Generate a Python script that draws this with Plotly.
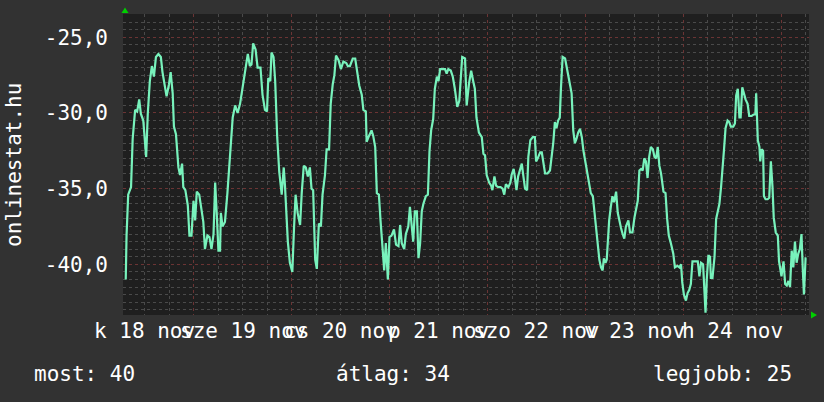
import plotly.graph_objects as go

# hours since 2014-11-18 00:00
hours = [
    7.4, 7.6, 8.0, 8.7, 9.1, 9.7, 10.2, 10.7, 11.1, 11.7, 12.4, 12.8, 13.3, 13.8, 14.3, 14.8,
    15.4, 16.0, 16.4, 16.9, 17.4, 18.0, 18.4, 18.9, 19.2, 19.7, 20.3, 20.7, 21.2, 21.5, 22.0,
    22.6, 23.0, 23.5, 24.0, 24.4, 24.8, 25.4, 26.0, 26.4, 26.8, 27.4, 27.9, 28.4, 28.9, 29.3,
    29.7, 30.1, 30.5, 30.7, 31.1, 31.7, 32.3, 32.8, 33.2, 33.6, 34.2,
    34.8, 35.4, 35.8, 36.4, 36.9, 37.3, 37.8, 38.2, 38.6, 39.2, 39.7, 40.4, 40.9, 41.5, 42.0,
    42.3, 42.8, 43.1, 43.6, 44.0, 44.5, 45.0, 45.6, 46.1, 46.4, 46.7, 47.1, 47.6, 48.2, 48.6,
    49.0, 49.5, 50.1, 50.5, 51.0, 51.5, 52.0, 52.5, 52.9, 53.3, 53.8, 54.2, 54.7, 55.2, 55.6,
    56.2, 56.6, 57.2, 57.6, 58.1, 58.5, 58.9, 59.5, 60.1, 60.7, 61.4, 61.8, 62.3,
    63.0, 63.6, 64.1, 64.6, 65.2, 65.6, 66.2, 66.4, 67.0, 67.6, 68.0, 68.5, 68.9, 69.4, 69.8,
    70.3, 70.7, 71.1, 71.6, 72.0, 72.5, 73.1, 73.6, 74.2, 74.6, 75.0, 75.6, 76.0, 76.6, 77.0,
    77.4, 77.8, 78.2, 78.7, 79.1, 79.5, 79.9, 80.3, 80.9, 81.4, 81.8, 82.2, 82.7, 83.1, 83.6,
    84.0, 84.4, 85.0, 85.6, 86.0, 86.4, 87.0, 87.5, 88.0, 88.6, 89.1, 89.5, 89.8, 90.5,
    90.9, 91.5, 92.0, 92.5, 92.9, 93.3, 93.9, 94.6, 95.0, 95.4, 95.8, 96.4, 96.9, 97.2, 97.7,
    98.1, 98.6, 99.2, 99.7, 100.1, 100.5, 101.1, 101.6, 101.9, 102.4, 102.7, 103.1, 103.5,
    104.0, 104.4, 104.8, 105.2, 105.7, 106.0, 106.5, 107.1, 107.6, 107.9, 108.3, 108.9, 109.3,
    109.7, 110.1, 110.7, 111.3, 111.7, 112.1, 112.5, 112.9, 113.3, 113.7, 114.0, 114.4, 115.0,
    115.4, 115.8, 116.2, 116.6, 117.0, 117.4, 117.8, 118.2, 118.65,
    119.1, 119.5, 119.9, 120.3, 120.7, 121.3, 121.8, 122.2, 122.6, 123.0, 123.4, 123.8, 124.2,
    124.5, 124.9, 125.2, 125.5, 125.8, 126.2, 126.6, 127.0, 127.5, 127.9, 128.3, 128.7, 129.1,
    129.5, 129.9, 130.5, 130.9, 131.5, 132.0, 132.4, 132.8, 133.2, 133.6, 134.0, 134.4, 134.8,
    135.2, 135.6, 136.0, 136.5, 136.9, 137.3, 137.7, 138.1, 138.5, 139.1, 139.6, 140.0, 140.4,
    140.9, 141.5, 141.9, 142.5, 143.0, 143.4, 143.7, 144.1, 144.6, 145.0, 145.4, 145.8, 146.2,
    146.8,
    147.5, 147.9, 148.3, 148.8, 149.1, 149.4, 149.7, 150.1, 150.5, 150.7, 151.1, 151.6, 152.0,
    152.4, 152.8, 153.2, 153.5, 153.9, 154.3, 154.8, 155.2, 155.6, 156.2, 156.6, 156.9, 157.3,
    157.7, 158.0, 158.4, 158.8, 159.2, 159.7, 160.1, 160.7, 161.2, 161.6, 161.8, 162.2, 162.6,
    162.8, 163.1, 163.5, 163.7, 164.1, 164.6, 165.0, 165.4, 165.8, 166.1, 166.6, 167.1, 167.4,
    167.7, 168.0, 168.5, 168.9, 169.3, 169.7, 170.1, 170.5, 170.9, 171.3, 171.7, 172.1, 172.5,
    172.9, 173.2, 173.5, 173.9, 174.1,
]
values = [
    -41.0, -38.1, -35.4, -34.9, -31.7, -29.8, -29.9, -29.1, -30.05, -30.5, -32.9, -30.05, -27.9,
    -26.9, -27.6, -26.3, -26.1, -26.3, -27.3, -28.2, -28.9, -28.1, -27.3, -28.7, -30.9, -31.4,
    -33.6, -34.1, -33.35, -34.9, -35.1, -36.1, -38.1, -38.1, -35.8, -37.1, -35.2, -35.4, -36.6,
    -37.2, -39.0, -38.1, -38.2, -39.0, -38.0, -34.6, -36.7, -39.1, -39.1, -36.6, -37.5, -37.2,
    -35.3, -33.1, -31.8, -30.3, -29.5,
    -30.0, -29.4, -28.7, -27.9, -26.9, -26.1, -26.9, -26.8, -25.4, -25.8, -27.0, -27.0, -28.8,
    -29.8, -29.9, -27.7, -27.9, -26.0, -26.3, -27.9, -31.6, -33.9, -35.4, -33.6, -34.8, -36.9,
    -38.5, -39.9, -40.5, -37.7, -35.4, -36.6, -37.4, -35.3, -33.5, -33.6, -34.2, -33.6, -35.0,
    -35.1, -39.7, -40.3, -37.3, -37.5, -35.4, -34.1, -32.4, -32.4, -29.4, -28.1, -27.5, -26.2,
    -26.5, -27.1, -26.6, -26.7, -26.9, -26.9,
    -26.4, -26.4, -27.3, -28.2, -28.8, -29.8, -29.9, -31.9, -31.5, -31.15, -31.5, -32.25, -35.3,
    -35.4, -37.1, -39.2, -40.4, -38.6, -41.0, -38.2, -38.1, -37.7, -38.7, -38.8, -37.4, -38.6,
    -39.0, -38.0, -37.5, -36.2, -37.3, -38.5, -36.5, -36.5, -39.6, -38.6, -36.5, -36.0, -35.5,
    -35.4, -32.5, -31.15, -30.4, -28.4, -27.6, -27.9, -27.1, -27.1, -27.1, -27.4, -27.1, -27.2,
    -27.6, -28.4, -29.6, -29.2, -27.4, -26.3, -26.4,
    -29.5, -28.0, -27.2, -27.9, -28.4, -30.3, -31.3, -31.6, -32.7, -32.8, -34.1, -34.6, -34.8,
    -35.1, -34.2, -34.8, -34.9, -34.9, -35.0, -35.4, -34.7, -34.9, -34.6, -34.1, -33.7, -34.2,
    -35.1, -34.2, -33.8, -33.35, -34.2, -35.0, -35.1, -32.9, -31.8, -31.6, -31.6, -33.2, -33.0,
    -32.6, -32.6, -33.5, -34.0, -34.0, -33.8, -32.9, -32.0, -30.6, -31.0, -30.5, -30.3, -28.3,
    -26.3, -26.4, -27.0, -27.7, -28.2, -28.7, -31.15, -32.0, -31.7, -31.3, -31.05,
    -31.6, -32.5, -33.1, -33.8, -34.3, -35.3, -35.5, -36.6, -37.6, -38.8, -39.7, -40.2, -40.4,
    -39.6, -39.9, -39.7, -38.0, -37.1, -36.2, -35.5, -35.9, -35.2, -36.6, -37.2, -37.6, -38.0,
    -38.3, -37.5, -37.1, -37.9, -37.9, -36.9, -36.4, -35.8, -33.8, -33.7, -33.8, -33.0, -33.2,
    -34.3, -32.9, -32.25, -32.4, -32.9, -33.0, -32.25, -33.5, -34.0, -35.2, -35.3, -37.0, -38.1,
    -38.6, -39.3, -40.2, -40.1, -40.2, -40.0, -41.2, -42.0, -42.4, -41.9, -41.7, -41.3, -39.8,
    -39.8,
    -39.8, -40.8, -39.9, -40.0, -41.5, -43.2, -41.0, -39.4, -39.5, -40.9, -40.9, -39.5, -37.0,
    -36.5, -36.0, -34.9, -34.0, -32.5, -31.0, -30.5, -30.6, -30.9, -30.9, -30.7, -28.85, -28.4,
    -30.3, -30.3, -28.3, -28.7, -29.1, -29.4, -30.2, -30.2, -30.1, -30.1, -28.7, -31.8, -32.25,
    -33.2, -32.4, -32.5, -35.5, -35.7, -35.7, -35.6, -33.2, -34.9, -36.9, -37.9, -38.1, -39.8,
    -40.2, -40.8, -39.8, -41.3, -41.4, -41.1, -41.5, -39.1, -40.2, -38.5, -39.9, -39.3, -39.0,
    -38.0, -40.2, -42.0, -39.6, -39.6,
]

day_noons = [12, 36, 60, 84, 108, 132, 156]
day_labels = ["k 18 nov", "sze 19 nov", "cs 20 nov", "p 21 nov", "szo 22 nov", "v 23 nov", "h 24 nov"]
y_ticks = [-40, -35, -30, -25]
y_tick_text = ["-40,0", "-35,0", "-30,0", "-25,0"]
y_title = "onlinestat.hu"
legend_items = ["most: 40", "átlag: 34", "legjobb: 25"]

FONT = "DejaVu Sans Mono"
W, H = 824, 402
L, R, T, B = 123, 15, 14, 87
pw, ph = W - L - R, H - T - B

def px(x):
    return (x - L) / pw

def py(y):
    return (H - B - y) / ph

fig = go.Figure()
fig.add_trace(go.Scatter(
    x=hours, y=values, mode="lines",
    line=dict(color="#78f2bc", width=2.2),
    hoverinfo="skip",
))

grid_minor = "#4a4a4a"
grid_major = "#6b3434"

fig.update_layout(
    width=W, height=H,
    margin=dict(l=L, r=R, t=T, b=B),
    paper_bgcolor="#323232",
    plot_bgcolor="#1f1f1f",
    showlegend=False,
    font=dict(family=FONT, size=21, color="#ffffff"),
    xaxis=dict(
        range=[6.73, 174.74],
        tickmode="linear", tick0=0, dtick=24,
        showticklabels=False, ticks="",
        showgrid=True, gridcolor=grid_major, griddash="dot", gridwidth=1,
        minor=dict(tickmode="linear", tick0=0, dtick=6, showgrid=True,
                   gridcolor=grid_minor, griddash="dot", gridwidth=1),
        zeroline=False, showline=False,
    ),
    yaxis=dict(
        range=[-43.35, -23.46],
        tickmode="array", tickvals=y_ticks, ticktext=y_tick_text,
        ticks="", ticklabelstandoff=14,
        tickfont=dict(family=FONT, size=21, color="#ffffff"),
        showgrid=True, gridcolor=grid_major, griddash="dot", gridwidth=1,
        minor=dict(tickmode="linear", tick0=0, dtick=0.5, showgrid=True,
                   gridcolor=grid_minor, griddash="dot", gridwidth=1),
        zeroline=False, showline=False,
    ),
)

annotations = []
for hx, lab in zip(day_noons, day_labels):
    annotations.append(dict(
        x=hx, xref="x", y=py(331), yref="paper", text=lab, showarrow=False,
        xanchor="center", yanchor="middle",
        font=dict(family=FONT, size=21, color="#ffffff"),
    ))
annotations.append(dict(
    x=px(14), xref="paper", y=py(165), yref="paper", text=y_title, showarrow=False,
    textangle=-90, xanchor="center", yanchor="middle",
    font=dict(family=FONT, size=21, color="#ffffff"),
))
leg_x = [32, 334, 651]
for lx, txt in zip(leg_x, legend_items):
    annotations.append(dict(
        x=px(lx), xref="paper", y=py(374), yref="paper", text=txt, showarrow=False,
        xanchor="left", yanchor="middle",
        font=dict(family=FONT, size=21, color="#ffffff"),
    ))
fig.update_layout(annotations=annotations)

# rrdtool-style axis arrows
up = "M {} {} L {} {} L {} {} Z".format(px(121.5), py(13), px(128.5), py(13), px(125), py(7.5))
right = "M {} {} L {} {} L {} {} Z".format(px(811), py(311.5), px(811), py(318.5), px(817), py(315))
fig.add_shape(type="path", path=up, xref="paper", yref="paper",
              fillcolor="#00d000", line=dict(width=0))
fig.add_shape(type="path", path=right, xref="paper", yref="paper",
              fillcolor="#00d000", line=dict(width=0))

fig.write_html(
    "out.html",
    config={"displayModeBar": False},
    post_script="document.body.style.margin='0';document.body.style.padding='0';"
                "document.body.style.overflow='hidden';",
)
